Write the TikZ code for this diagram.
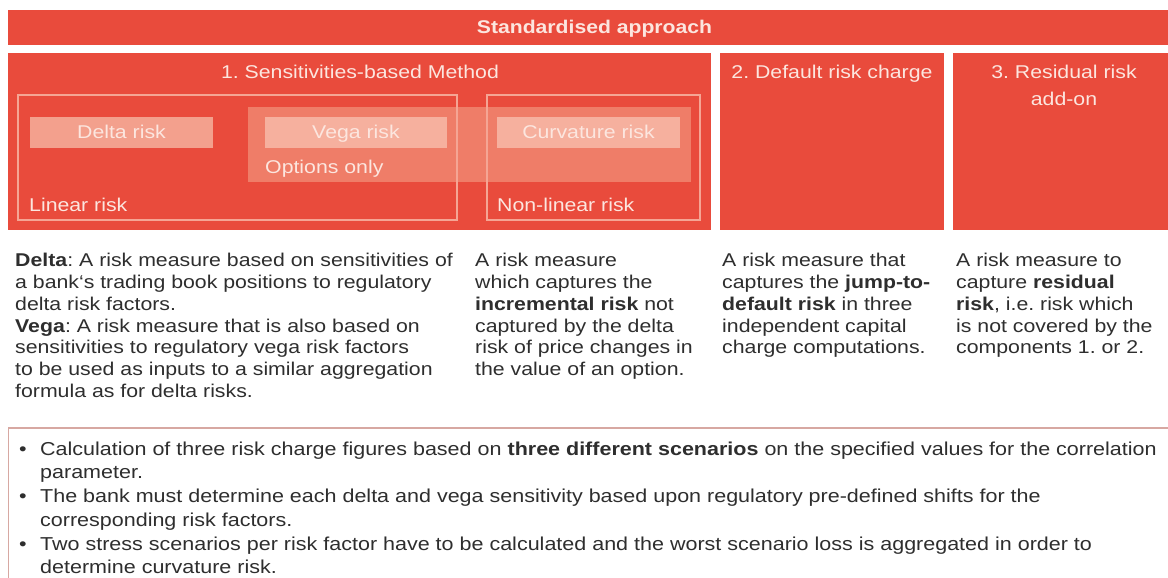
\documentclass[tikz,border=0pt]{standalone}
\usepackage{fontspec}
\setmainfont{Liberation Sans}[FakeStretch=1.15]
\frenchspacing
\definecolor{mainred}{HTML}{E94B3C}
\definecolor{bandred}{HTML}{EF7D68}
\definecolor{lightbox}{HTML}{F3A08D}
\definecolor{lightbox2}{HTML}{F6B09E}
\definecolor{framec}{HTML}{F5A594}
\definecolor{boxtext}{HTML}{FCE6DF}
\definecolor{desctext}{HTML}{2E2E2E}
\definecolor{bottomborder}{HTML}{D7A8A2}
\tikzset{
  redblock/.style={fill=mainred, draw=none},
  innerframe/.style={draw=framec, line width=1.6pt},
  whitetxt/.style={text=boxtext, font=\fontsize{18.5}{27}\selectfont, inner sep=0pt, anchor=base},
  desc/.style={text=desctext, font=\fontsize{18.5}{21.8}\selectfont, inner sep=0pt, align=left, anchor=north west},
  bullettxt/.style={text=desctext, font=\fontsize{18.7}{23.6}\selectfont, inner sep=0pt, anchor=base west},
}
\begin{document}
\begin{tikzpicture}[x=1pt,y=-1pt]
\useasboundingbox (0,0) rectangle (1168,578);
\clip (0,0) rectangle (1168,578);
\fill[white] (0,0) rectangle (1168,578);
% top bar
\path[redblock] (8,10) rectangle (1181,45);
\node[whitetxt, font=\bfseries\fontsize{18.4}{22}\selectfont] (title) at (594.5,33.5) {Standardised approach};
% three boxes
\path[redblock] (8,53) rectangle (711,230);
\path[redblock] (720,53) rectangle (944,230);
\path[redblock] (953,53) rectangle (1181,230);
\node[whitetxt] (m1) at (360,79) {1. Sensitivities-based Method};
\node[whitetxt] (m2) at (832,79) {2. Default risk charge};
\node[whitetxt] (m3) at (1064,79) {3. Residual risk};
\node[whitetxt] (m3b) at (1064,106) {add-on};
% options band
\fill[bandred] (248,107) rectangle (691,182);
% frames
\draw[innerframe] (18,95) rectangle (457,220);
\draw[innerframe] (487,95) rectangle (700,220);
% risk boxes
\fill[lightbox] (30,117) rectangle (213,148);
\fill[lightbox2] (265,117) rectangle (447,148);
\fill[lightbox2] (497,117) rectangle (680,148);
\node[whitetxt] (delta) at (121.5,139) {Delta risk};
\node[whitetxt] (vega) at (356,139) {Vega risk};
\node[whitetxt] (curv) at (588.5,139) {Curvature risk};
\node[whitetxt, anchor=base west] (opt) at (265,173) {Options only};
\node[whitetxt, anchor=base west] (lin) at (29,211) {Linear risk};
\node[whitetxt, anchor=base west] (nonlin) at (497,211) {Non-linear risk};
% descriptions
\node[desc] (d1) at (15,253) {\textbf{Delta}: A risk measure based on sensitivities of\\a bank‘s trading book positions to regulatory\\delta risk factors.\\\textbf{Vega}: A risk measure that is also based on\\sensitivities to regulatory vega risk factors\\to be used as inputs to a similar aggregation\\formula as for delta risks.};
\node[desc] (d2) at (475,253) {A risk measure\\which captures the\\\textbf{incremental risk} not\\captured by the delta\\risk of price changes in\\the value of an option.};
\node[desc] (d3) at (722,253) {A risk measure that\\captures the \textbf{jump-to-}\\\textbf{default risk} in three\\independent capital\\charge computations.};
\node[desc] (d4) at (956,253) {A risk measure to\\capture \textbf{residual}\\\textbf{risk}, i.e. risk which\\is not covered by the\\components 1. or 2.};
% bottom box
\draw[draw=bottomborder, line width=1.3pt] (8.5,428) rectangle (1185,600);
\node[bullettxt] (b1) at (19,455.5) {•};
\node[bullettxt] (t1) at (40,455.5) {Calculation of three risk charge figures based on \textbf{three different scenarios} on the specified values for the correlation};
\node[bullettxt] (t1b) at (40,478) {parameter.};
\node[bullettxt] (b2) at (19,502.5) {•};
\node[bullettxt] (t2) at (40,502.5) {The bank must determine each delta and vega sensitivity based upon regulatory pre-defined shifts for the};
\node[bullettxt] (t2b) at (40,526.5) {corresponding risk factors.};
\node[bullettxt] (b3) at (19,550) {•};
\node[bullettxt] (t3) at (40,550) {Two stress scenarios per risk factor have to be calculated and the worst scenario loss is aggregated in order to};
\node[bullettxt] (t3b) at (40,573) {determine curvature risk.};
\end{tikzpicture}
\end{document}
